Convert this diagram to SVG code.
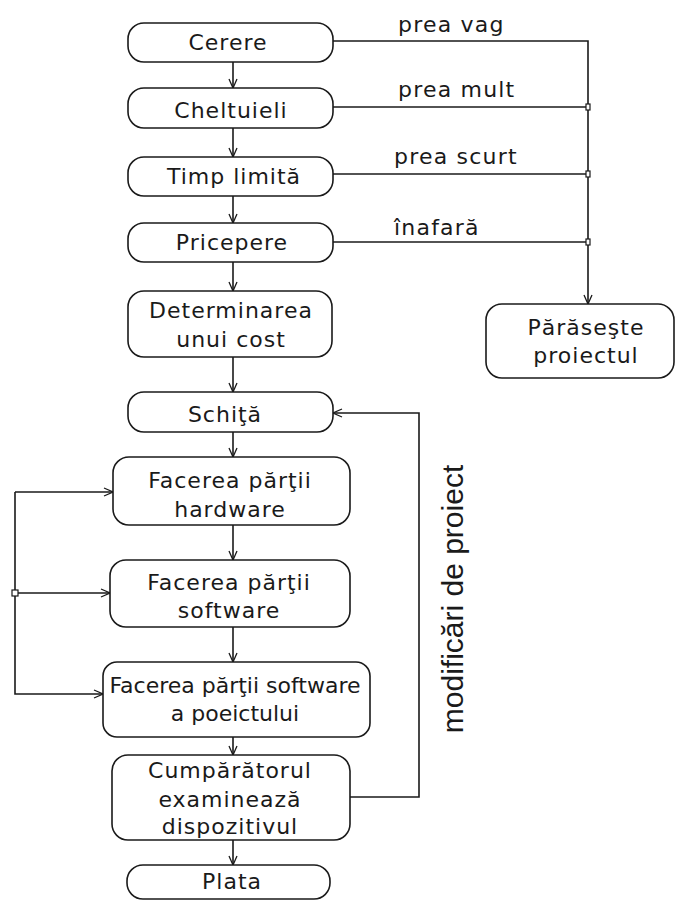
<svg xmlns="http://www.w3.org/2000/svg" width="677" height="900" viewBox="0 0 677 900">
  <style>
    .box { fill: #ffffff; stroke: #1a1a1a; stroke-width: 1.6; }
    .lbl { font-family: "DejaVu Sans", "Liberation Sans", sans-serif; font-size: 22px; fill: #1a1a1a; text-anchor: middle; letter-spacing: 1px; }
    .tight { letter-spacing: 0px; }
    .edge-lbl { font-family: "DejaVu Sans", "Liberation Sans", sans-serif; font-size: 22px; fill: #1a1a1a; letter-spacing: 1.2px; }
    .side-lbl { font-family: "Liberation Sans", Arial, sans-serif; font-size: 30px; fill: #1a1a1a; text-anchor: middle; }
    .wire { fill: none; stroke: #1a1a1a; stroke-width: 1.6; }
    .dot { fill: #ffffff; stroke: #1a1a1a; stroke-width: 1.2; }
  </style>
  <defs>
    <marker id="arrow" viewBox="0 0 10 10" refX="10" refY="5" markerWidth="10" markerHeight="10" markerUnits="userSpaceOnUse" orient="auto">
      <path d="M1,1 L10,5 L1,9" fill="none" stroke="#1a1a1a" stroke-width="1.3"/>
    </marker>
  </defs>

  <rect width="677" height="900" fill="#ffffff"/>

  <!-- connectors -->
  <g id="connectors">
    <!-- main vertical flow -->
    <line class="wire" x1="233" y1="62" x2="233" y2="88" marker-end="url(#arrow)"/>
    <line class="wire" x1="233" y1="128" x2="233" y2="157" marker-end="url(#arrow)"/>
    <line class="wire" x1="233" y1="196" x2="233" y2="223" marker-end="url(#arrow)"/>
    <line class="wire" x1="233" y1="262" x2="233" y2="291" marker-end="url(#arrow)"/>
    <line class="wire" x1="233" y1="357" x2="233" y2="392" marker-end="url(#arrow)"/>
    <line class="wire" x1="233" y1="432" x2="233" y2="457" marker-end="url(#arrow)"/>
    <line class="wire" x1="233" y1="525" x2="233" y2="560" marker-end="url(#arrow)"/>
    <line class="wire" x1="233" y1="627" x2="233" y2="662" marker-end="url(#arrow)"/>
    <line class="wire" x1="233" y1="737" x2="233" y2="755" marker-end="url(#arrow)"/>
    <line class="wire" x1="233" y1="840" x2="233" y2="865" marker-end="url(#arrow)"/>

    <!-- exits to the abandon node -->
    <polyline class="wire" points="333,41 588,41 588,304" marker-end="url(#arrow)"/>
    <line class="wire" x1="333" y1="107" x2="588" y2="107"/>
    <line class="wire" x1="333" y1="174" x2="588" y2="174"/>
    <line class="wire" x1="333" y1="242" x2="588" y2="242"/>
    <rect class="dot" x="586" y="104" width="4" height="6"/>
    <rect class="dot" x="586" y="171" width="4" height="6"/>
    <rect class="dot" x="586" y="239" width="4" height="6"/>

    <text class="edge-lbl" x="398" y="32">prea vag</text>
    <text class="edge-lbl" x="398" y="97">prea mult</text>
    <text class="edge-lbl" x="394" y="164">prea scurt</text>
    <text class="edge-lbl" x="394" y="235">înafară</text>

    <!-- left feedback loop -->
    <polyline class="wire" points="15,492 15,694 103,694" marker-end="url(#arrow)"/>
    <line class="wire" x1="15" y1="492" x2="113" y2="492" marker-end="url(#arrow)"/>
    <line class="wire" x1="15" y1="593" x2="110" y2="593" marker-end="url(#arrow)"/>
    <rect class="dot" x="12" y="590" width="6" height="6"/>

    <!-- design change loop -->
    <polyline class="wire" points="350,797 419,797 419,413 333,413" marker-end="url(#arrow)"/>
    <text class="side-lbl" transform="translate(463,599) rotate(-90)">modificări de proiect</text>
  </g>

  <!-- nodes -->
  <g id="cerere">
    <rect class="box" x="128" y="23" width="205" height="39" rx="16" ry="16"/>
    <text class="lbl" x="228" y="50">Cerere</text>
  </g>
  <g id="cheltuieli">
    <rect class="box" x="128" y="88" width="205" height="40" rx="16" ry="16"/>
    <text class="lbl" x="231" y="118">Cheltuieli</text>
  </g>
  <g id="timp-limita">
    <rect class="box" x="128" y="157" width="205" height="39" rx="16" ry="16"/>
    <text class="lbl" x="234" y="184">Timp limită</text>
  </g>
  <g id="pricepere">
    <rect class="box" x="128" y="223" width="205" height="39" rx="16" ry="16"/>
    <text class="lbl" x="232" y="250">Pricepere</text>
  </g>
  <g id="determinarea-costului">
    <rect class="box" x="128" y="291" width="204" height="66" rx="16" ry="16"/>
    <text class="lbl" x="231" y="318">Determinarea</text>
    <text class="lbl" x="231" y="347">unui cost</text>
  </g>
  <g id="schita">
    <rect class="box" x="128" y="392" width="205" height="40" rx="16" ry="16"/>
    <text class="lbl" x="225" y="422">Schiţă</text>
  </g>
  <g id="hardware">
    <rect class="box" x="113" y="457" width="237" height="68" rx="16" ry="16"/>
    <text class="lbl" x="230" y="488">Facerea părţii</text>
    <text class="lbl" x="230" y="517">hardware</text>
  </g>
  <g id="software">
    <rect class="box" x="110" y="560" width="240" height="67" rx="16" ry="16"/>
    <text class="lbl" x="229" y="590">Facerea părţii</text>
    <text class="lbl" x="229" y="618">software</text>
  </g>
  <g id="software-proiect">
    <rect class="box" x="103" y="662" width="267" height="75" rx="14" ry="14"/>
    <text class="lbl tight" x="235" y="693">Facerea părţii  software</text>
    <text class="lbl tight" x="235" y="721">a poeictului</text>
  </g>
  <g id="cumparatorul">
    <rect class="box" x="112" y="755" width="238" height="85" rx="16" ry="16"/>
    <text class="lbl" x="230" y="778">Cumpărătorul</text>
    <text class="lbl" x="230" y="807">examinează</text>
    <text class="lbl" x="230" y="834">dispozitivul</text>
  </g>
  <g id="plata">
    <rect class="box" x="127" y="865" width="203" height="34" rx="16" ry="16"/>
    <text class="lbl" x="232" y="889">Plata</text>
  </g>
  <g id="paraseste">
    <rect class="box" x="486" y="304" width="188" height="74" rx="16" ry="16"/>
    <text class="lbl" x="586" y="335">Părăseşte</text>
    <text class="lbl" x="586" y="363">proiectul</text>
  </g>
</svg>
